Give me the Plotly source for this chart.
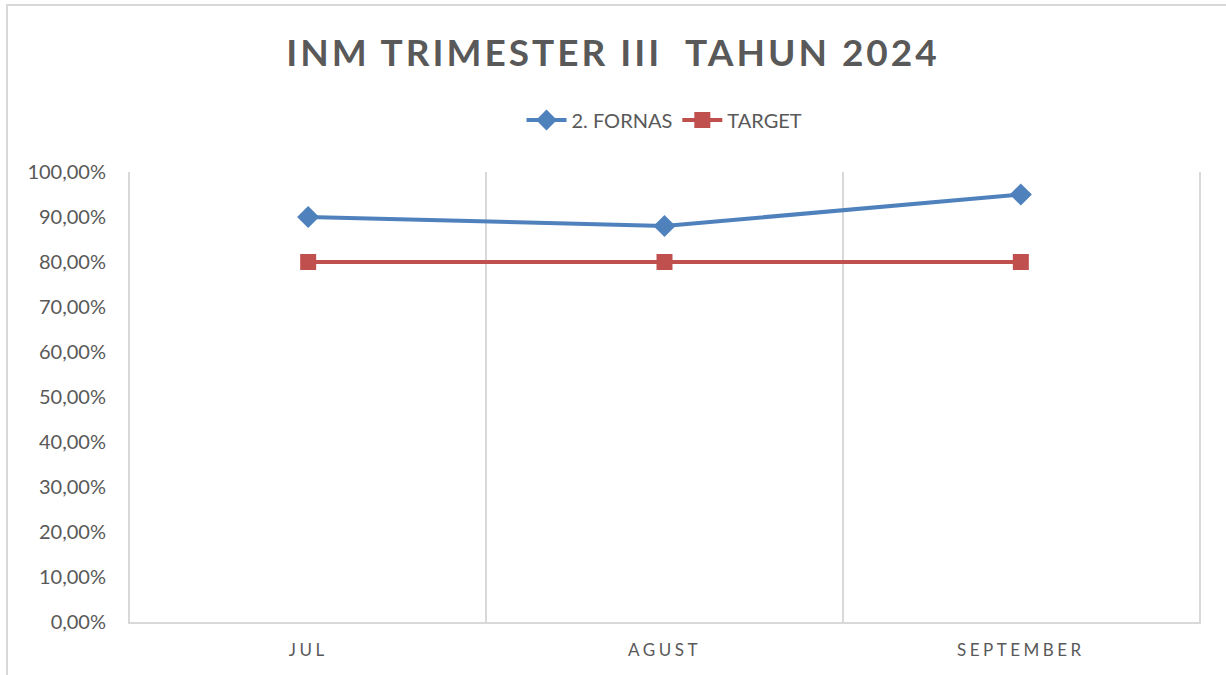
import plotly.graph_objects as go

categories = ["JUL", "AGUST", "SEPTEMBER"]
fornas = [0.90, 0.88, 0.95]
target = [0.80, 0.80, 0.80]
y_ticks = [0, 0.1, 0.2, 0.3, 0.4, 0.5, 0.6, 0.7, 0.8, 0.9, 1.0]

xpos = list(range(len(categories)))
grey = "#595959"
font = "Lato, Calibri, sans-serif"

fig = go.Figure()
fig.add_trace(go.Scatter(
    x=xpos, y=fornas, name="2. FORNAS", mode="lines+markers",
    line=dict(color="#4f81bd", width=4),
    marker=dict(symbol="diamond", size=17, color="#4f81bd"),
))
fig.add_trace(go.Scatter(
    x=xpos, y=target, name="TARGET", mode="lines+markers",
    line=dict(color="#c0504d", width=4),
    marker=dict(symbol="square", size=16, color="#c0504d"),
))

fig.update_layout(
    width=1226, height=675,
    margin=dict(l=130, r=27, t=172, b=53),
    paper_bgcolor="white", plot_bgcolor="white",
    separators=",.",
    title=dict(text="<b>INM TRIMESTER III  TAHUN 2024</b>", x=0.5, xanchor="center",
               y=1 - 53 / 675, yanchor="middle",
               font=dict(family=font, size=37, color=grey)),
    legend=dict(orientation="h", x=0.5, xanchor="center", y=1 - 120 / 675, yref="container",
                yanchor="middle", font=dict(family=font, size=20, color=grey),
                itemwidth=40),
    showlegend=True,
    xaxis=dict(
        range=[-0.5, len(categories) - 0.5],
        tickmode="array", tickvals=xpos, ticktext=categories,
        showgrid=False, zeroline=False,
        showline=True, linecolor="#d9d9d9", linewidth=2,
        ticks="", tickfont=dict(family=font, size=17, color=grey),
        minor=dict(tickmode="array", tickvals=[i - 0.5 for i in range(len(categories) + 1)],
                   showgrid=True, gridcolor="#d9d9d9", gridwidth=2, ticks=""),
        ticklabelstandoff=12,
    ),
    yaxis=dict(
        range=[0, 1.0], tickvals=y_ticks, tickformat=".2%",
        showgrid=False, zeroline=False, showline=True, mirror=True,
        linecolor="#d9d9d9", linewidth=2, ticks="",
        tickfont=dict(family=font, size=20, color=grey),
        ticklabelstandoff=18,
    ),
    shapes=[dict(type="rect", xref="paper", yref="paper",
                 x0=-123 / 1069, x1=1.1, y0=-0.3, y1=(622 - 5) / 450,
                 line=dict(color="#d9d9d9", width=2), fillcolor="rgba(0,0,0,0)", layer="below")],
)

post = """
document.body.style.margin = '0';
document.body.style.overflow = 'hidden';
document.querySelectorAll('.xtick text').forEach(function(t){ t.style.letterSpacing = '3.5px'; });
document.querySelectorAll('.gtitle').forEach(function(t){ t.style.letterSpacing = '3px'; });
"""
fig.write_html("out.html", post_script=post, config={"displayModeBar": False})
